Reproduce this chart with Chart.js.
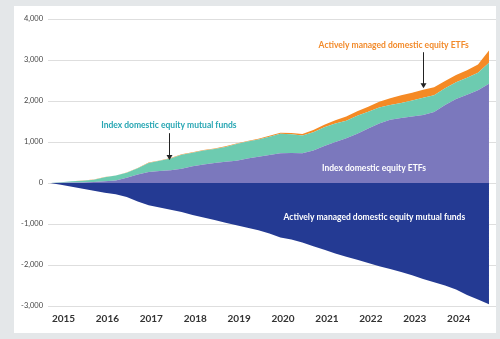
<!DOCTYPE html>
<html>
<head>
<meta charset="utf-8">
<script src="https://cdn.jsdelivr.net/npm/chart.js@4.4.1/dist/chart.umd.min.js"></script>
<style>
  html, body { margin: 0; padding: 0; background: #e4e7e9; }
  #panel { position: absolute; left: 14px; top: 6px; width: 482px; height: 327px; background: #ffffff; }
  #wrap { position: absolute; left: 0; top: 0; width: 500px; height: 339px; }
</style>
</head>
<body>
<div id="panel"></div>
<div id="wrap"><canvas id="flows"></canvas></div>
<script>
// cumulative net flows, quarterly points (decimal years)
const dates = [
  2014.69, 2014.94, 2015.19, 2015.44, 2015.69, 2015.94, 2016.19, 2016.44, 2016.69, 2016.94,
  2017.19, 2017.44, 2017.69, 2017.94, 2018.19, 2018.44, 2018.69, 2018.94, 2019.19, 2019.44,
  2019.69, 2019.94, 2020.19, 2020.44, 2020.69, 2020.94, 2021.19, 2021.44, 2021.69, 2021.94,
  2022.19, 2022.44, 2022.69, 2022.94, 2023.19, 2023.44, 2023.69, 2023.94, 2024.19, 2024.44,
  2024.69
];
const indexEtfs = [
  0, 5, 10, 15, 25, 45, 60, 130, 210, 270,
  295, 310, 350, 410, 450, 490, 520, 540, 600, 640,
  680, 725, 730, 725, 790, 900, 1000, 1090, 1200, 1330,
  1450, 1540, 1585, 1620, 1660, 1730, 1900, 2050, 2150, 2260,
  2420
];
const indexMutualFunds = [
  0, 15, 30, 40, 55, 95, 120, 120, 150, 220,
  245, 290, 340, 330, 340, 340, 360, 410, 410, 420,
  450, 475, 460, 435, 450, 460, 450, 430, 440, 410,
  390, 360, 365, 390, 420, 410, 410, 410, 420, 430,
  510
];
const activeEtfs = [
  0, 1, 2, 3, 4, 5, 5, 6, 8, 10,
  10, 10, 12, 12, 12, 12, 15, 15, 15, 18,
  20, 25, 30, 35, 50, 60, 80, 100, 110, 120,
  140, 170, 190, 190, 195, 195, 180, 175, 180, 200,
  300
];
const activeMutualFunds = [
  0, -40, -90, -140, -190, -240, -275, -340, -450, -540,
  -595, -650, -710, -780, -840, -900, -970, -1030, -1090, -1150,
  -1230, -1330, -1380, -1450, -1540, -1630, -1720, -1800, -1870, -1950,
  -2030, -2100, -2170, -2250, -2340, -2420, -2500, -2600, -2730, -2840,
  -2960
];
const yearTicks = [2015, 2016, 2017, 2018, 2019, 2020, 2021, 2022, 2023, 2024];

const toPoints = arr => arr.map((v, i) => ({ x: dates[i], y: v }));

// text labels and arrows, placed in data units
const notes = [
  { text: 'Index domestic equity mutual funds', x: 2017.40, y: 1410, color: '#27a6b3', arrow: [1215, 560] },
  { text: 'Actively managed domestic equity ETFs', x: 2022.52, y: 3360, color: '#f28a2a', arrow: [3190, 2310], ax: 2023.19 },
  { text: 'Index domestic equity ETFs', x: 2022.07, y: 360, color: '#ffffff' },
  { text: 'Actively managed domestic equity mutual funds', x: 2022.08, y: -840, color: '#ffffff' }
];

const notePlugin = {
  id: 'notes',
  afterDatasetsDraw(chart) {
    const { ctx, scales: { x, y } } = chart;
    ctx.save();
    ctx.font = 'bold 8.5px Lato';
    ctx.textAlign = 'center';
    ctx.textBaseline = 'middle';
    notes.forEach(n => {
      ctx.fillStyle = n.color;
      ctx.fillText(n.text, x.getPixelForValue(n.x), y.getPixelForValue(n.y));
      if (n.arrow) {
        const ax = Math.round(x.getPixelForValue(n.ax || n.x)) + 0.5;
        const y0 = y.getPixelForValue(n.arrow[0]);
        const y1 = y.getPixelForValue(n.arrow[1]);
        ctx.strokeStyle = '#222';
        ctx.fillStyle = '#222';
        ctx.lineWidth = 1;
        ctx.beginPath();
        ctx.moveTo(ax, y0);
        ctx.lineTo(ax, y1 - 4);
        ctx.stroke();
        ctx.beginPath();
        ctx.moveTo(ax - 3, y1 - 5);
        ctx.lineTo(ax + 3, y1 - 5);
        ctx.lineTo(ax, y1);
        ctx.closePath();
        ctx.fill();
      }
    });
    ctx.restore();
  }
};

new Chart(document.getElementById('flows'), {
  type: 'line',
  data: {
    datasets: [
      { label: 'Index domestic equity ETFs', data: toPoints(indexEtfs), backgroundColor: '#7b78bd', fill: 'origin' },
      { label: 'Index domestic equity mutual funds', data: toPoints(indexMutualFunds), backgroundColor: '#6dcbb0', fill: '-1' },
      { label: 'Actively managed domestic equity ETFs', data: toPoints(activeEtfs), backgroundColor: '#f58a25', fill: '-1' },
      { label: 'Actively managed domestic equity mutual funds', data: toPoints(activeMutualFunds), backgroundColor: '#243a93', fill: 'origin' }
    ]
  },
  options: {
    responsive: true,
    maintainAspectRatio: false,
    animation: false,
    layout: { padding: { top: 19, right: 4, left: 0, bottom: 0 } },
    elements: {
      point: { radius: 0 },
      line: { borderWidth: 0, tension: 0 }
    },
    plugins: {
      legend: { display: false },
      tooltip: { enabled: false }
    },
    scales: {
      x: {
        type: 'linear',
        min: 2014.647,
        max: 2024.85,
        afterBuildTicks: s => { s.ticks = yearTicks.map(v => ({ value: v })); },
        afterFit: s => { s.height = 33; },
        grid: { display: false, drawTicks: false },
        border: { display: false },
        ticks: {
          padding: 7,
          color: '#333',
          font: { family: 'Lato', size: 10, weight: 'bold' },
          callback: v => String(v)
        }
      },
      y: {
        stacked: true,
        min: -3000,
        max: 4000,
        afterFit: s => { s.width = 48; },
        grid: { color: '#dedede', lineWidth: 1, drawTicks: false },
        border: { display: false },
        ticks: {
          stepSize: 1000,
          padding: 5,
          color: '#444',
          font: { family: 'Lato', size: 7.5 },
          callback: v => v.toLocaleString('en-US')
        }
      }
    }
  },
  plugins: [notePlugin]
});
</script>
</body>
</html>
